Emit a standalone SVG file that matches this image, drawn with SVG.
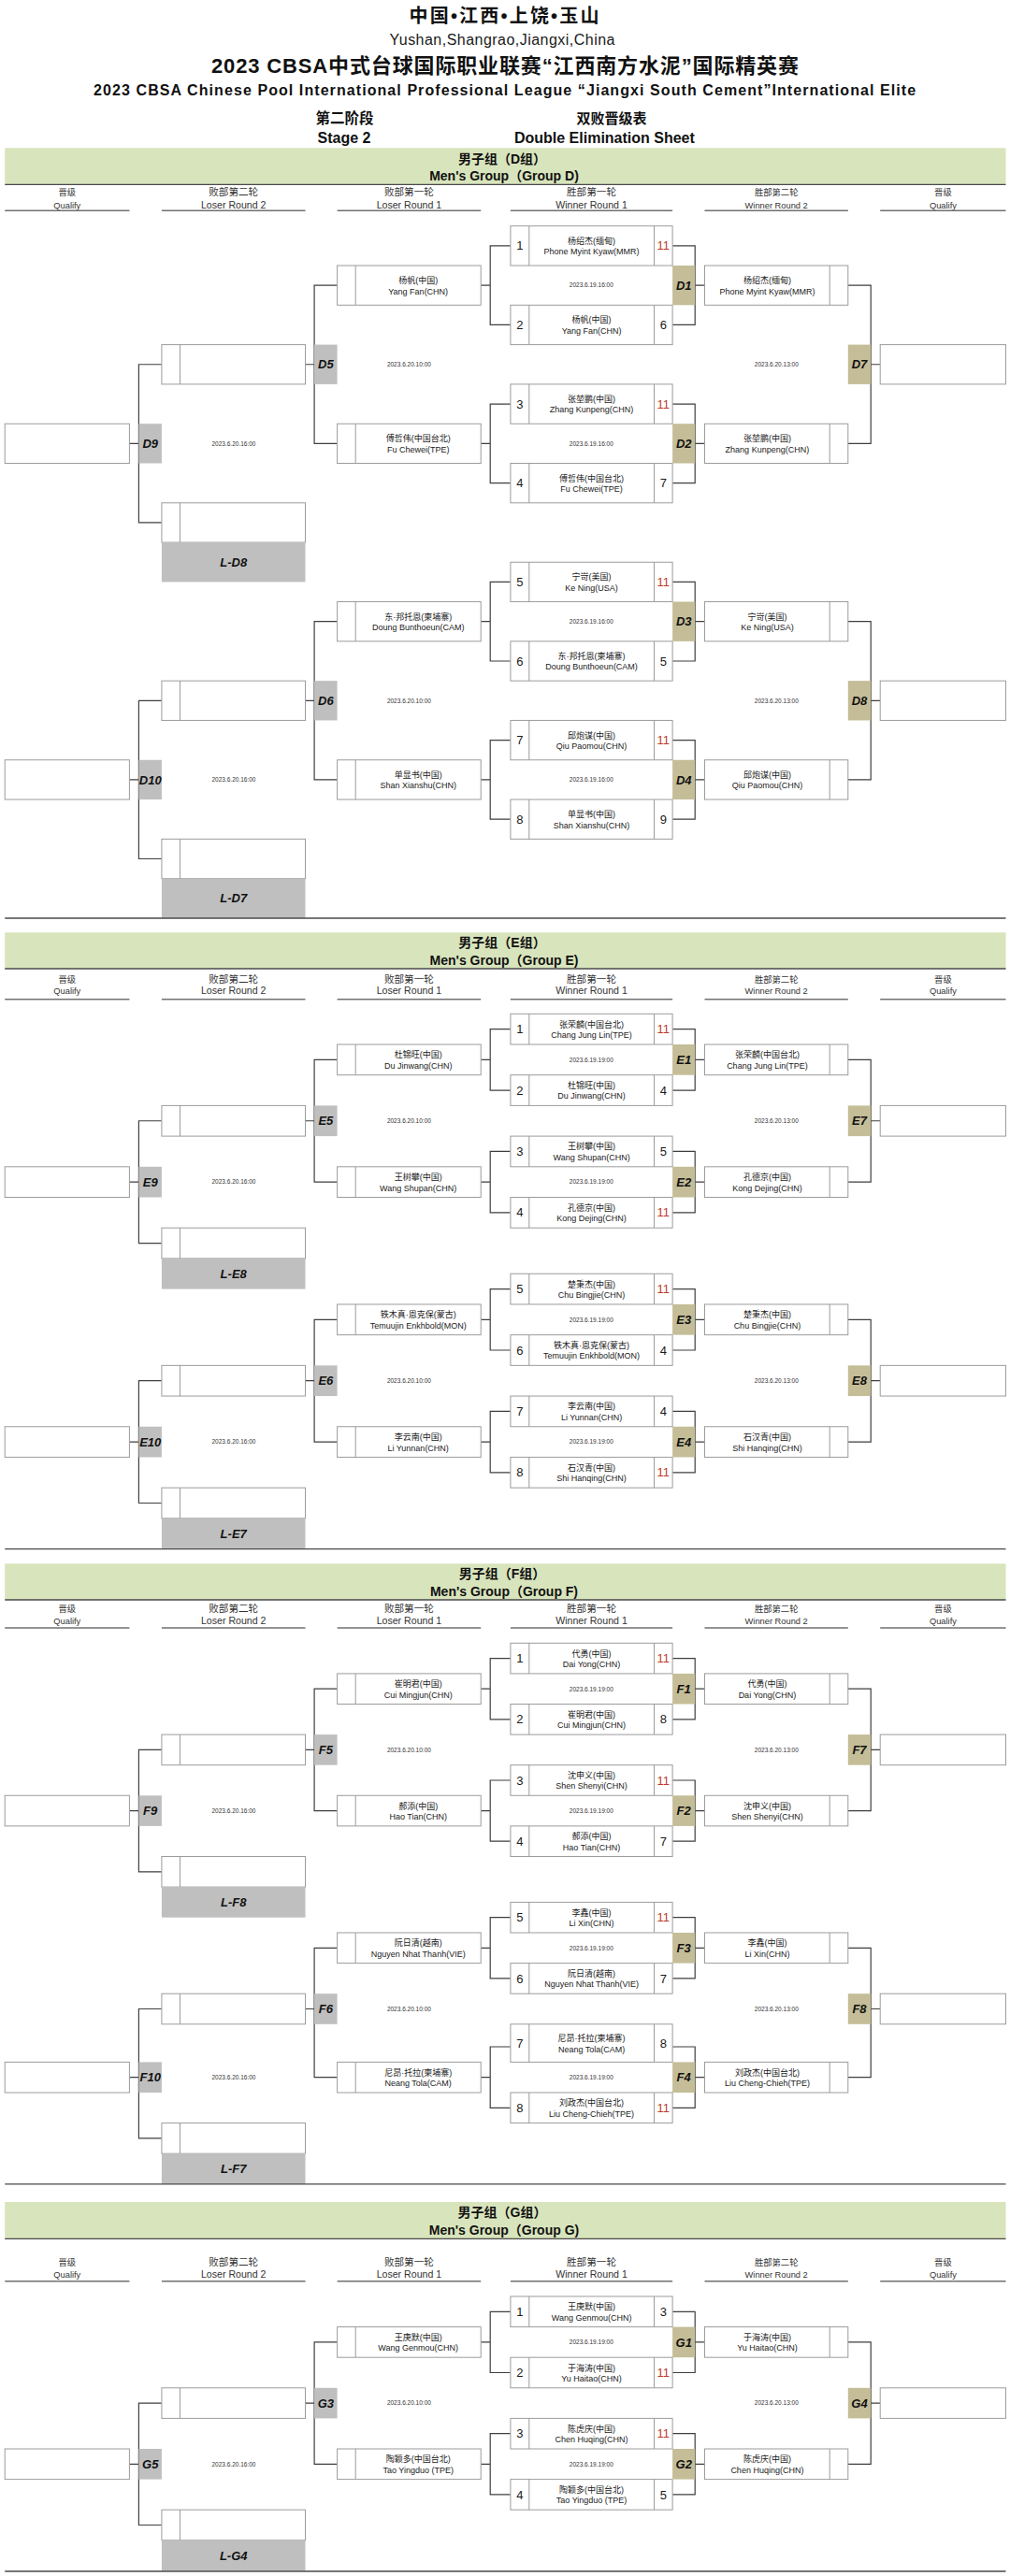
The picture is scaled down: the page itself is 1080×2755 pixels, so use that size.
<svg xmlns="http://www.w3.org/2000/svg" width="1080" height="2755" viewBox="0 0 1080 2755">
<style>
text{font-family:"Liberation Sans","Noto Sans CJK SC",sans-serif;fill:#1a1a1a}
.bx{fill:#fff;stroke:#9c9c9c;stroke-width:1}
.dv{stroke:#9c9c9c;stroke-width:1;fill:none}
.cn{fill:none;stroke:#3f3f3f;stroke-width:1.2}
.tw{fill:#c4bd97}
.tl{fill:#bfbfbf}
.band{fill:#d8e4bc}
.rule{stroke:#4a4a4a;stroke-width:1.3}
.ul{stroke:#707070;stroke-width:1.4}
.nm{font-size:9px;text-anchor:middle}
.sd{font-size:13px;text-anchor:middle}
.win{fill:#c0392b}
.tg{font-size:13px;font-weight:bold;font-style:italic;text-anchor:middle;fill:#111}
.dt{font-size:6.5px;text-anchor:middle;fill:#333}
.ha{font-size:10.6px;text-anchor:middle;fill:#333}
.hb{font-size:9.3px;text-anchor:middle;fill:#333}
.bt{font-size:14px;font-weight:bold;text-anchor:middle;fill:#111}
.tt{font-weight:bold;text-anchor:middle;fill:#111}
</style>

<g id="title">
<text class="tt" x="539" y="24" font-size="20" textLength="203">中国•江西•上饶•玉山</text>
<text x="537" y="47.5" font-size="16" text-anchor="middle" textLength="241">Yushan,Shangrao,Jiangxi,China</text>
<text class="tt" x="540" y="78" font-size="22" textLength="628">2023 CBSA中式台球国际职业联赛“江西南方水泥”国际精英赛</text>
<text class="tt" x="539.6" y="101.5" font-size="16" textLength="879">2023 CBSA Chinese Pool International Professional League “Jiangxi South Cement”International Elite</text>
<text class="tt" x="368.5" y="132" font-size="15.5">第二阶段</text>
<text class="tt" x="368" y="153" font-size="16">Stage 2</text>
<text class="tt" x="654" y="132" font-size="15">双败晋级表</text>
<text class="tt" x="646.4" y="153" font-size="16">Double Elimination Sheet</text>
</g>

<!-- ================= GROUP D ================= -->
<g id="D-header">
<rect class="band" x="5.2" y="158.3" width="1070.3" height="39"/>
<line class="rule" x1="5.2" y1="197.3" x2="1075.5" y2="197.3"/>
<text class="bt" x="537" y="175">男子组（D组）</text>
<text class="bt" x="539" y="193.3">Men's Group（Group D)</text>
<text class="hb" x="71.8" y="209">晋级</text><text class="hb" x="71.8" y="222.5">Qualify</text>
<text class="ha" x="249.7" y="209">败部第二轮</text><text class="ha" x="249.7" y="222.5">Loser Round 2</text>
<text class="ha" x="437.4" y="209">败部第一轮</text><text class="ha" x="437.4" y="222.5">Loser Round 1</text>
<text class="ha" x="632.5" y="209">胜部第一轮</text><text class="ha" x="632.5" y="222.5">Winner Round 1</text>
<text class="hb" x="830.2" y="209">胜部第二轮</text><text class="hb" x="830.2" y="222.5">Winner Round 2</text>
<text class="hb" x="1008.4" y="209">晋级</text><text class="hb" x="1008.4" y="222.5">Qualify</text>
<path class="ul" d="M5.2 225.3H138.4M172.9 225.3H326.5M360.6 225.3H514.2M545.9 225.3H719.1M753.5 225.3H906.8M941.2 225.3H1075.5"/>
</g>

<g id="D-connectors">
<path class="cn" d="M514.2 305.15H524.2M545.9 262.85H524.2V347.45H545.9M514.2 474.35H524.2M545.9 432.05H524.2V516.65H545.9M514.2 664.7H524.2M545.9 622.4H524.2V707H545.9M514.2 833.9H524.2M545.9 791.6H524.2V876.2H545.9"/>
<path class="cn" d="M719.1 262.85H743.2V347.45H719.1M743.2 305.15H753.5M719.1 432.05H743.2V516.65H719.1M743.2 474.35H753.5M719.1 622.4H743.2V707H719.1M743.2 664.7H753.5M719.1 791.6H743.2V876.2H719.1M743.2 833.9H753.5"/>
<path class="cn" d="M906.8 305.15H931.2V474.35H906.8M931.2 389.75H941.2M906.8 664.7H931.2V833.9H906.8M931.2 749.3H941.2"/>
<path class="cn" d="M360.6 305.15H336.1V474.35H360.6M336.1 389.75H326.5M360.6 664.7H336.1V833.9H360.6M336.1 749.3H326.5"/>
<path class="cn" d="M172.9 389.75H148.4V558.95H172.9M148.4 474.35H138.4M172.9 749.3H148.4V918.5H172.9M148.4 833.9H138.4"/>
</g>

<g id="D-W1-1"><rect class="bx" x="545.9" y="241.7" width="173.2" height="42.3"/><path class="dv" d="M565.8 241.7V284M699.5 241.7V284"/><text class="sd" x="555.9" y="267.45">1</text><text class="nm" x="632.6" y="260.85">杨绍杰(缅甸)</text><text class="nm" x="632.6" y="272.25">Phone Myint Kyaw(MMR)</text><text class="sd win" x="709.3" y="267.45">11</text></g>
<g id="D-W1-2"><rect class="bx" x="545.9" y="326.3" width="173.2" height="42.3"/><path class="dv" d="M565.8 326.3V368.6M699.5 326.3V368.6"/><text class="sd" x="555.9" y="352.05">2</text><text class="nm" x="632.6" y="345.45">杨帆(中国)</text><text class="nm" x="632.6" y="356.85">Yang Fan(CHN)</text><text class="sd" x="709.3" y="352.05">6</text></g>
<g id="D-W1-3"><rect class="bx" x="545.9" y="410.9" width="173.2" height="42.3"/><path class="dv" d="M565.8 410.9V453.2M699.5 410.9V453.2"/><text class="sd" x="555.9" y="436.65">3</text><text class="nm" x="632.6" y="430.05">张堃鹏(中国)</text><text class="nm" x="632.6" y="441.45">Zhang Kunpeng(CHN)</text><text class="sd win" x="709.3" y="436.65">11</text></g>
<g id="D-W1-4"><rect class="bx" x="545.9" y="495.5" width="173.2" height="42.3"/><path class="dv" d="M565.8 495.5V537.8M699.5 495.5V537.8"/><text class="sd" x="555.9" y="521.25">4</text><text class="nm" x="632.6" y="514.65">傅哲伟(中国台北)</text><text class="nm" x="632.6" y="526.05">Fu Chewei(TPE)</text><text class="sd" x="709.3" y="521.25">7</text></g>
<g id="D-W1-5"><rect class="bx" x="545.9" y="601.25" width="173.2" height="42.3"/><path class="dv" d="M565.8 601.25V643.55M699.5 601.25V643.55"/><text class="sd" x="555.9" y="627">5</text><text class="nm" x="632.6" y="620.4">宁岢(美国)</text><text class="nm" x="632.6" y="631.8">Ke Ning(USA)</text><text class="sd win" x="709.3" y="627">11</text></g>
<g id="D-W1-6"><rect class="bx" x="545.9" y="685.85" width="173.2" height="42.3"/><path class="dv" d="M565.8 685.85V728.15M699.5 685.85V728.15"/><text class="sd" x="555.9" y="711.6">6</text><text class="nm" x="632.6" y="705">东·邦托恩(柬埔寨)</text><text class="nm" x="632.6" y="716.4">Doung Bunthoeun(CAM)</text><text class="sd" x="709.3" y="711.6">5</text></g>
<g id="D-W1-7"><rect class="bx" x="545.9" y="770.45" width="173.2" height="42.3"/><path class="dv" d="M565.8 770.45V812.75M699.5 770.45V812.75"/><text class="sd" x="555.9" y="796.2">7</text><text class="nm" x="632.6" y="789.6">邱炮谋(中国)</text><text class="nm" x="632.6" y="801">Qiu Paomou(CHN)</text><text class="sd win" x="709.3" y="796.2">11</text></g>
<g id="D-W1-8"><rect class="bx" x="545.9" y="855.05" width="173.2" height="42.3"/><path class="dv" d="M565.8 855.05V897.35M699.5 855.05V897.35"/><text class="sd" x="555.9" y="880.8">8</text><text class="nm" x="632.6" y="874.2">单显书(中国)</text><text class="nm" x="632.6" y="885.6">Shan Xianshu(CHN)</text><text class="sd" x="709.3" y="880.8">9</text></g>

<g id="D-W2-1"><rect class="bx" x="753.5" y="284" width="153.3" height="42.3"/><path class="dv" d="M887.2 284V326.3"/><text class="nm" x="820.4" y="303.15">杨绍杰(缅甸)</text><text class="nm" x="820.4" y="314.55">Phone Myint Kyaw(MMR)</text></g>
<g id="D-W2-2"><rect class="bx" x="753.5" y="453.2" width="153.3" height="42.3"/><path class="dv" d="M887.2 453.2V495.5"/><text class="nm" x="820.4" y="472.35">张堃鹏(中国)</text><text class="nm" x="820.4" y="483.75">Zhang Kunpeng(CHN)</text></g>
<g id="D-W2-3"><rect class="bx" x="753.5" y="643.55" width="153.3" height="42.3"/><path class="dv" d="M887.2 643.55V685.85"/><text class="nm" x="820.4" y="662.7">宁岢(美国)</text><text class="nm" x="820.4" y="674.1">Ke Ning(USA)</text></g>
<g id="D-W2-4"><rect class="bx" x="753.5" y="812.75" width="153.3" height="42.3"/><path class="dv" d="M887.2 812.75V855.05"/><text class="nm" x="820.4" y="831.9">邱炮谋(中国)</text><text class="nm" x="820.4" y="843.3">Qiu Paomou(CHN)</text></g>

<g id="D-L1-1"><rect class="bx" x="360.6" y="284" width="153.6" height="42.3"/><path class="dv" d="M380.2 284V326.3"/><text class="nm" x="447.2" y="303.15">杨帆(中国)</text><text class="nm" x="447.2" y="314.55">Yang Fan(CHN)</text></g>
<g id="D-L1-2"><rect class="bx" x="360.6" y="453.2" width="153.6" height="42.3"/><path class="dv" d="M380.2 453.2V495.5"/><text class="nm" x="447.2" y="472.35">傅哲伟(中国台北)</text><text class="nm" x="447.2" y="483.75">Fu Chewei(TPE)</text></g>
<g id="D-L1-3"><rect class="bx" x="360.6" y="643.55" width="153.6" height="42.3"/><path class="dv" d="M380.2 643.55V685.85"/><text class="nm" x="447.2" y="662.7">东·邦托恩(柬埔寨)</text><text class="nm" x="447.2" y="674.1">Doung Bunthoeun(CAM)</text></g>
<g id="D-L1-4"><rect class="bx" x="360.6" y="812.75" width="153.6" height="42.3"/><path class="dv" d="M380.2 812.75V855.05"/><text class="nm" x="447.2" y="831.9">单显书(中国)</text><text class="nm" x="447.2" y="843.3">Shan Xianshu(CHN)</text></g>

<g id="D-L2-1"><rect class="bx" x="172.9" y="368.6" width="153.6" height="42.3"/><path class="dv" d="M192.5 368.6V410.9"/></g>
<g id="D-L2-2"><rect class="bx" x="172.9" y="537.8" width="153.6" height="42.3"/><path class="dv" d="M192.5 537.8V580.1"/></g>
<g id="D-LD8"><rect class="tl" x="172.9" y="580.1" width="153.6" height="42.3"/><text class="tg" x="249.7" y="605.85">L-D8</text></g>
<g id="D-L2-3"><rect class="bx" x="172.9" y="728.15" width="153.6" height="42.3"/><path class="dv" d="M192.5 728.15V770.45"/></g>
<g id="D-L2-4"><rect class="bx" x="172.9" y="897.35" width="153.6" height="42.3"/><path class="dv" d="M192.5 897.35V939.65"/></g>
<g id="D-LD7"><rect class="tl" x="172.9" y="939.65" width="153.6" height="42.3"/><text class="tg" x="249.7" y="965.4">L-D7</text></g>

<g id="D-QL-1"><rect class="bx" x="5.2" y="453.2" width="133.2" height="42.3"/></g>
<g id="D-QL-2"><rect class="bx" x="5.2" y="812.75" width="133.2" height="42.3"/></g>
<g id="D-QR-1"><rect class="bx" x="941.2" y="368.6" width="134.3" height="42.3"/></g>
<g id="D-QR-2"><rect class="bx" x="941.2" y="728.15" width="134.3" height="42.3"/></g>

<g id="D1"><rect class="tw" x="719.1" y="284" width="24.1" height="42.3"/><text class="tg" x="731.2" y="309.75">D1</text></g>
<g id="D2"><rect class="tw" x="719.1" y="453.2" width="24.1" height="42.3"/><text class="tg" x="731.2" y="478.95">D2</text></g>
<g id="D3"><rect class="tw" x="719.1" y="643.55" width="24.1" height="42.3"/><text class="tg" x="731.2" y="669.3">D3</text></g>
<g id="D4"><rect class="tw" x="719.1" y="812.75" width="24.1" height="42.3"/><text class="tg" x="731.2" y="838.5">D4</text></g>
<g id="D7"><rect class="tw" x="906.8" y="368.6" width="24.4" height="42.3"/><text class="tg" x="919" y="394.35">D7</text></g>
<g id="D8"><rect class="tw" x="906.8" y="728.15" width="24.4" height="42.3"/><text class="tg" x="919" y="753.9">D8</text></g>
<g id="D5"><rect class="tl" x="336.1" y="368.6" width="24.5" height="42.3"/><text class="tg" x="348.4" y="394.35">D5</text></g>
<g id="D6"><rect class="tl" x="336.1" y="728.15" width="24.5" height="42.3"/><text class="tg" x="348.4" y="753.9">D6</text></g>
<g id="D9"><rect class="tl" x="148.4" y="453.2" width="24.5" height="42.3"/><text class="tg" x="160.7" y="478.95">D9</text></g>
<g id="D10"><rect class="tl" x="148.4" y="812.75" width="24.5" height="42.3"/><text class="tg" x="160.7" y="838.5">D10</text></g>

<g id="D-dates">
<text class="dt" x="632.3" y="307.45">2023.6.19.16:00</text><text class="dt" x="632.3" y="476.65">2023.6.19.16:00</text><text class="dt" x="632.3" y="667">2023.6.19.16:00</text><text class="dt" x="632.3" y="836.2">2023.6.19.16:00</text>
<text class="dt" x="830.3" y="392.05">2023.6.20.13:00</text><text class="dt" x="830.3" y="751.6">2023.6.20.13:00</text>
<text class="dt" x="437.4" y="392.05">2023.6.20.10:00</text><text class="dt" x="437.4" y="751.6">2023.6.20.10:00</text>
<text class="dt" x="250" y="476.65">2023.6.20.16:00</text><text class="dt" x="250" y="836.2">2023.6.20.16:00</text>
</g>
<line class="rule" x1="5.2" y1="982" x2="1075.5" y2="982"/>

<!-- ================= GROUP E ================= -->
<g id="E-header">
<rect class="band" x="5.2" y="997.3" width="1070.3" height="38.7"/>
<line class="rule" x1="5.2" y1="1036" x2="1075.5" y2="1036"/>
<text class="bt" x="537" y="1013.3">男子组（E组）</text>
<text class="bt" x="539" y="1032.3">Men's Group（Group E)</text>
<text class="hb" x="71.8" y="1050.7">晋级</text><text class="hb" x="71.8" y="1063.1">Qualify</text>
<text class="ha" x="249.7" y="1050.7">败部第二轮</text><text class="ha" x="249.7" y="1063.1">Loser Round 2</text>
<text class="ha" x="437.4" y="1050.7">败部第一轮</text><text class="ha" x="437.4" y="1063.1">Loser Round 1</text>
<text class="ha" x="632.5" y="1050.7">胜部第一轮</text><text class="ha" x="632.5" y="1063.1">Winner Round 1</text>
<text class="hb" x="830.2" y="1050.7">胜部第二轮</text><text class="hb" x="830.2" y="1063.1">Winner Round 2</text>
<text class="hb" x="1008.4" y="1050.7">晋级</text><text class="hb" x="1008.4" y="1063.1">Qualify</text>
<path class="ul" d="M5.2 1068.7H138.4M172.9 1068.7H326.5M360.6 1068.7H514.2M545.9 1068.7H719.1M753.5 1068.7H906.8M941.2 1068.7H1075.5"/>
</g>

<g id="E-connectors">
<path class="cn" d="M514.2 1133.35H524.2M545.9 1100.65H524.2V1166.05H545.9M514.2 1264.15H524.2M545.9 1231.45H524.2V1296.85H545.9M514.2 1411.3H524.2M545.9 1378.6H524.2V1444H545.9M514.2 1542.1H524.2M545.9 1509.4H524.2V1574.8H545.9"/>
<path class="cn" d="M719.1 1100.65H743.2V1166.05H719.1M743.2 1133.35H753.5M719.1 1231.45H743.2V1296.85H719.1M743.2 1264.15H753.5M719.1 1378.6H743.2V1444H719.1M743.2 1411.3H753.5M719.1 1509.4H743.2V1574.8H719.1M743.2 1542.1H753.5"/>
<path class="cn" d="M906.8 1133.35H931.2V1264.15H906.8M931.2 1198.75H941.2M906.8 1411.3H931.2V1542.1H906.8M931.2 1476.7H941.2"/>
<path class="cn" d="M360.6 1133.35H336.1V1264.15H360.6M336.1 1198.75H326.5M360.6 1411.3H336.1V1542.1H360.6M336.1 1476.7H326.5"/>
<path class="cn" d="M172.9 1198.75H148.4V1329.55H172.9M148.4 1264.15H138.4M172.9 1476.7H148.4V1607.5H172.9M148.4 1542.1H138.4"/>
</g>

<g id="E-W1-1"><rect class="bx" x="545.9" y="1084.3" width="173.2" height="32.7"/><path class="dv" d="M565.8 1084.3V1117M699.5 1084.3V1117"/><text class="sd" x="555.9" y="1105.25">1</text><text class="nm" x="632.6" y="1098.65">张荣麟(中国台北)</text><text class="nm" x="632.6" y="1110.05">Chang Jung Lin(TPE)</text><text class="sd win" x="709.3" y="1105.25">11</text></g>
<g id="E-W1-2"><rect class="bx" x="545.9" y="1149.7" width="173.2" height="32.7"/><path class="dv" d="M565.8 1149.7V1182.4M699.5 1149.7V1182.4"/><text class="sd" x="555.9" y="1170.65">2</text><text class="nm" x="632.6" y="1164.05">杜锦旺(中国)</text><text class="nm" x="632.6" y="1175.45">Du Jinwang(CHN)</text><text class="sd" x="709.3" y="1170.65">4</text></g>
<g id="E-W1-3"><rect class="bx" x="545.9" y="1215.1" width="173.2" height="32.7"/><path class="dv" d="M565.8 1215.1V1247.8M699.5 1215.1V1247.8"/><text class="sd" x="555.9" y="1236.05">3</text><text class="nm" x="632.6" y="1229.45">王树攀(中国)</text><text class="nm" x="632.6" y="1240.85">Wang Shupan(CHN)</text><text class="sd" x="709.3" y="1236.05">5</text></g>
<g id="E-W1-4"><rect class="bx" x="545.9" y="1280.5" width="173.2" height="32.7"/><path class="dv" d="M565.8 1280.5V1313.2M699.5 1280.5V1313.2"/><text class="sd" x="555.9" y="1301.45">4</text><text class="nm" x="632.6" y="1294.85">孔德京(中国)</text><text class="nm" x="632.6" y="1306.25">Kong Dejing(CHN)</text><text class="sd win" x="709.3" y="1301.45">11</text></g>
<g id="E-W1-5"><rect class="bx" x="545.9" y="1362.25" width="173.2" height="32.7"/><path class="dv" d="M565.8 1362.25V1394.95M699.5 1362.25V1394.95"/><text class="sd" x="555.9" y="1383.2">5</text><text class="nm" x="632.6" y="1376.6">楚秉杰(中国)</text><text class="nm" x="632.6" y="1388">Chu Bingjie(CHN)</text><text class="sd win" x="709.3" y="1383.2">11</text></g>
<g id="E-W1-6"><rect class="bx" x="545.9" y="1427.65" width="173.2" height="32.7"/><path class="dv" d="M565.8 1427.65V1460.35M699.5 1427.65V1460.35"/><text class="sd" x="555.9" y="1448.6">6</text><text class="nm" x="632.6" y="1442">铁木真·恩克保(蒙古)</text><text class="nm" x="632.6" y="1453.4">Temuujin Enkhbold(MON)</text><text class="sd" x="709.3" y="1448.6">4</text></g>
<g id="E-W1-7"><rect class="bx" x="545.9" y="1493.05" width="173.2" height="32.7"/><path class="dv" d="M565.8 1493.05V1525.75M699.5 1493.05V1525.75"/><text class="sd" x="555.9" y="1514">7</text><text class="nm" x="632.6" y="1507.4">李云南(中国)</text><text class="nm" x="632.6" y="1518.8">Li Yunnan(CHN)</text><text class="sd" x="709.3" y="1514">4</text></g>
<g id="E-W1-8"><rect class="bx" x="545.9" y="1558.45" width="173.2" height="32.7"/><path class="dv" d="M565.8 1558.45V1591.15M699.5 1558.45V1591.15"/><text class="sd" x="555.9" y="1579.4">8</text><text class="nm" x="632.6" y="1572.8">石汉青(中国)</text><text class="nm" x="632.6" y="1584.2">Shi Hanqing(CHN)</text><text class="sd win" x="709.3" y="1579.4">11</text></g>

<g id="E-W2-1"><rect class="bx" x="753.5" y="1117" width="153.3" height="32.7"/><path class="dv" d="M887.2 1117V1149.7"/><text class="nm" x="820.4" y="1131.35">张荣麟(中国台北)</text><text class="nm" x="820.4" y="1142.75">Chang Jung Lin(TPE)</text></g>
<g id="E-W2-2"><rect class="bx" x="753.5" y="1247.8" width="153.3" height="32.7"/><path class="dv" d="M887.2 1247.8V1280.5"/><text class="nm" x="820.4" y="1262.15">孔德京(中国)</text><text class="nm" x="820.4" y="1273.55">Kong Dejing(CHN)</text></g>
<g id="E-W2-3"><rect class="bx" x="753.5" y="1394.95" width="153.3" height="32.7"/><path class="dv" d="M887.2 1394.95V1427.65"/><text class="nm" x="820.4" y="1409.3">楚秉杰(中国)</text><text class="nm" x="820.4" y="1420.7">Chu Bingjie(CHN)</text></g>
<g id="E-W2-4"><rect class="bx" x="753.5" y="1525.75" width="153.3" height="32.7"/><path class="dv" d="M887.2 1525.75V1558.45"/><text class="nm" x="820.4" y="1540.1">石汉青(中国)</text><text class="nm" x="820.4" y="1551.5">Shi Hanqing(CHN)</text></g>

<g id="E-L1-1"><rect class="bx" x="360.6" y="1117" width="153.6" height="32.7"/><path class="dv" d="M380.2 1117V1149.7"/><text class="nm" x="447.2" y="1131.35">杜锦旺(中国)</text><text class="nm" x="447.2" y="1142.75">Du Jinwang(CHN)</text></g>
<g id="E-L1-2"><rect class="bx" x="360.6" y="1247.8" width="153.6" height="32.7"/><path class="dv" d="M380.2 1247.8V1280.5"/><text class="nm" x="447.2" y="1262.15">王树攀(中国)</text><text class="nm" x="447.2" y="1273.55">Wang Shupan(CHN)</text></g>
<g id="E-L1-3"><rect class="bx" x="360.6" y="1394.95" width="153.6" height="32.7"/><path class="dv" d="M380.2 1394.95V1427.65"/><text class="nm" x="447.2" y="1409.3">铁木真·恩克保(蒙古)</text><text class="nm" x="447.2" y="1420.7">Temuujin Enkhbold(MON)</text></g>
<g id="E-L1-4"><rect class="bx" x="360.6" y="1525.75" width="153.6" height="32.7"/><path class="dv" d="M380.2 1525.75V1558.45"/><text class="nm" x="447.2" y="1540.1">李云南(中国)</text><text class="nm" x="447.2" y="1551.5">Li Yunnan(CHN)</text></g>

<g id="E-L2-1"><rect class="bx" x="172.9" y="1182.4" width="153.6" height="32.7"/><path class="dv" d="M192.5 1182.4V1215.1"/></g>
<g id="E-L2-2"><rect class="bx" x="172.9" y="1313.2" width="153.6" height="32.7"/><path class="dv" d="M192.5 1313.2V1345.9"/></g>
<g id="E-LE8"><rect class="tl" x="172.9" y="1345.9" width="153.6" height="32.7"/><text class="tg" x="249.7" y="1366.85">L-E8</text></g>
<g id="E-L2-3"><rect class="bx" x="172.9" y="1460.35" width="153.6" height="32.7"/><path class="dv" d="M192.5 1460.35V1493.05"/></g>
<g id="E-L2-4"><rect class="bx" x="172.9" y="1591.15" width="153.6" height="32.7"/><path class="dv" d="M192.5 1591.15V1623.85"/></g>
<g id="E-LE7"><rect class="tl" x="172.9" y="1623.85" width="153.6" height="32.7"/><text class="tg" x="249.7" y="1644.8">L-E7</text></g>

<g id="E-QL-1"><rect class="bx" x="5.2" y="1247.8" width="133.2" height="32.7"/></g>
<g id="E-QL-2"><rect class="bx" x="5.2" y="1525.75" width="133.2" height="32.7"/></g>
<g id="E-QR-1"><rect class="bx" x="941.2" y="1182.4" width="134.3" height="32.7"/></g>
<g id="E-QR-2"><rect class="bx" x="941.2" y="1460.35" width="134.3" height="32.7"/></g>

<g id="E1"><rect class="tw" x="719.1" y="1117" width="24.1" height="32.7"/><text class="tg" x="731.2" y="1137.95">E1</text></g>
<g id="E2"><rect class="tw" x="719.1" y="1247.8" width="24.1" height="32.7"/><text class="tg" x="731.2" y="1268.75">E2</text></g>
<g id="E3"><rect class="tw" x="719.1" y="1394.95" width="24.1" height="32.7"/><text class="tg" x="731.2" y="1415.9">E3</text></g>
<g id="E4"><rect class="tw" x="719.1" y="1525.75" width="24.1" height="32.7"/><text class="tg" x="731.2" y="1546.7">E4</text></g>
<g id="E7"><rect class="tw" x="906.8" y="1182.4" width="24.4" height="32.7"/><text class="tg" x="919" y="1203.35">E7</text></g>
<g id="E8"><rect class="tw" x="906.8" y="1460.35" width="24.4" height="32.7"/><text class="tg" x="919" y="1481.3">E8</text></g>
<g id="E5"><rect class="tl" x="336.1" y="1182.4" width="24.5" height="32.7"/><text class="tg" x="348.4" y="1203.35">E5</text></g>
<g id="E6"><rect class="tl" x="336.1" y="1460.35" width="24.5" height="32.7"/><text class="tg" x="348.4" y="1481.3">E6</text></g>
<g id="E9"><rect class="tl" x="148.4" y="1247.8" width="24.5" height="32.7"/><text class="tg" x="160.7" y="1268.75">E9</text></g>
<g id="E10"><rect class="tl" x="148.4" y="1525.75" width="24.5" height="32.7"/><text class="tg" x="160.7" y="1546.7">E10</text></g>

<g id="E-dates">
<text class="dt" x="632.3" y="1135.65">2023.6.19.19:00</text><text class="dt" x="632.3" y="1266.45">2023.6.19.19:00</text><text class="dt" x="632.3" y="1413.6">2023.6.19.19:00</text><text class="dt" x="632.3" y="1544.4">2023.6.19.19:00</text>
<text class="dt" x="830.3" y="1201.05">2023.6.20.13:00</text><text class="dt" x="830.3" y="1479">2023.6.20.13:00</text>
<text class="dt" x="437.4" y="1201.05">2023.6.20.10:00</text><text class="dt" x="437.4" y="1479">2023.6.20.10:00</text>
<text class="dt" x="250" y="1266.45">2023.6.20.16:00</text><text class="dt" x="250" y="1544.4">2023.6.20.16:00</text>
</g>
<line class="rule" x1="5.2" y1="1656.6" x2="1075.5" y2="1656.6"/>

<!-- ================= GROUP F ================= -->
<g id="F-header">
<rect class="band" x="5.2" y="1672.3" width="1070.3" height="38.7"/>
<line class="rule" x1="5.2" y1="1711" x2="1075.5" y2="1711"/>
<text class="bt" x="537" y="1688.3">男子组（F组）</text>
<text class="bt" x="539" y="1707.3">Men's Group（Group F)</text>
<text class="hb" x="71.8" y="1724">晋级</text><text class="hb" x="71.8" y="1737.1">Qualify</text>
<text class="ha" x="249.7" y="1724">败部第二轮</text><text class="ha" x="249.7" y="1737.1">Loser Round 2</text>
<text class="ha" x="437.4" y="1724">败部第一轮</text><text class="ha" x="437.4" y="1737.1">Loser Round 1</text>
<text class="ha" x="632.5" y="1724">胜部第一轮</text><text class="ha" x="632.5" y="1737.1">Winner Round 1</text>
<text class="hb" x="830.2" y="1724">胜部第二轮</text><text class="hb" x="830.2" y="1737.1">Winner Round 2</text>
<text class="hb" x="1008.4" y="1724">晋级</text><text class="hb" x="1008.4" y="1737.1">Qualify</text>
<path class="ul" d="M5.2 1741H138.4M172.9 1741H326.5M360.6 1741H514.2M545.9 1741H719.1M753.5 1741H906.8M941.2 1741H1075.5"/>
</g>

<g id="F-connectors">
<path class="cn" d="M514.2 1806.2H524.2M545.9 1773.6H524.2V1838.8H545.9M514.2 1936.6H524.2M545.9 1904H524.2V1969.2H545.9M514.2 2083.3H524.2M545.9 2050.7H524.2V2115.9H545.9M514.2 2221.7H524.2M545.9 2189H524.2V2254.3H545.9"/>
<path class="cn" d="M719.1 1773.6H743.2V1838.8H719.1M743.2 1806.2H753.5M719.1 1904H743.2V1969.2H719.1M743.2 1936.6H753.5M719.1 2050.7H743.2V2115.9H719.1M743.2 2083.3H753.5M719.1 2189H743.2V2254.3H719.1M743.2 2221.7H753.5"/>
<path class="cn" d="M906.8 1806.2H931.2V1936.6H906.8M931.2 1871.4H941.2M906.8 2083.3H931.2V2221.7H906.8M931.2 2148.5H941.2"/>
<path class="cn" d="M360.6 1806.2H336.1V1936.6H360.6M336.1 1871.4H326.5M360.6 2083.3H336.1V2221.7H360.6M336.1 2148.5H326.5"/>
<path class="cn" d="M172.9 1871.4H148.4V2001.8H172.9M148.4 1936.6H138.4M172.9 2148.5H148.4V2286.9H172.9M148.4 2221.7H138.4"/>
</g>

<g id="F-W1-1"><rect class="bx" x="545.9" y="1757.3" width="173.2" height="32.6"/><path class="dv" d="M565.8 1757.3V1789.9M699.5 1757.3V1789.9"/><text class="sd" x="555.9" y="1778.2">1</text><text class="nm" x="632.6" y="1771.6">代勇(中国)</text><text class="nm" x="632.6" y="1783">Dai Yong(CHN)</text><text class="sd win" x="709.3" y="1778.2">11</text></g>
<g id="F-W1-2"><rect class="bx" x="545.9" y="1822.5" width="173.2" height="32.6"/><path class="dv" d="M565.8 1822.5V1855.1M699.5 1822.5V1855.1"/><text class="sd" x="555.9" y="1843.4">2</text><text class="nm" x="632.6" y="1836.8">崔明君(中国)</text><text class="nm" x="632.6" y="1848.2">Cui Mingjun(CHN)</text><text class="sd" x="709.3" y="1843.4">8</text></g>
<g id="F-W1-3"><rect class="bx" x="545.9" y="1887.7" width="173.2" height="32.6"/><path class="dv" d="M565.8 1887.7V1920.3M699.5 1887.7V1920.3"/><text class="sd" x="555.9" y="1908.6">3</text><text class="nm" x="632.6" y="1902">沈申义(中国)</text><text class="nm" x="632.6" y="1913.4">Shen Shenyi(CHN)</text><text class="sd win" x="709.3" y="1908.6">11</text></g>
<g id="F-W1-4"><rect class="bx" x="545.9" y="1952.9" width="173.2" height="32.6"/><path class="dv" d="M565.8 1952.9V1985.5M699.5 1952.9V1985.5"/><text class="sd" x="555.9" y="1973.8">4</text><text class="nm" x="632.6" y="1967.2">郝添(中国)</text><text class="nm" x="632.6" y="1978.6">Hao Tian(CHN)</text><text class="sd" x="709.3" y="1973.8">7</text></g>
<g id="F-W1-5"><rect class="bx" x="545.9" y="2034.4" width="173.2" height="32.6"/><path class="dv" d="M565.8 2034.4V2067M699.5 2034.4V2067"/><text class="sd" x="555.9" y="2055.3">5</text><text class="nm" x="632.6" y="2048.7">李鑫(中国)</text><text class="nm" x="632.6" y="2060.1">Li Xin(CHN)</text><text class="sd win" x="709.3" y="2055.3">11</text></g>
<g id="F-W1-6"><rect class="bx" x="545.9" y="2099.6" width="173.2" height="32.6"/><path class="dv" d="M565.8 2099.6V2132.2M699.5 2099.6V2132.2"/><text class="sd" x="555.9" y="2120.5">6</text><text class="nm" x="632.6" y="2113.9">阮日清(越南)</text><text class="nm" x="632.6" y="2125.3">Nguyen Nhat Thanh(VIE)</text><text class="sd" x="709.3" y="2120.5">7</text></g>
<g id="F-W1-7"><rect class="bx" x="545.9" y="2164.8" width="173.2" height="40.6"/><path class="dv" d="M565.8 2164.8V2205.4M699.5 2164.8V2205.4"/><text class="sd" x="555.9" y="2189.7">7</text><text class="nm" x="632.6" y="2183.1">尼昂·托拉(柬埔寨)</text><text class="nm" x="632.6" y="2194.5">Neang Tola(CAM)</text><text class="sd" x="709.3" y="2189.7">8</text></g>
<g id="F-W1-8"><rect class="bx" x="545.9" y="2238" width="173.2" height="32.6"/><path class="dv" d="M565.8 2238V2270.6M699.5 2238V2270.6"/><text class="sd" x="555.9" y="2258.9">8</text><text class="nm" x="632.6" y="2252.3">刘政杰(中国台北)</text><text class="nm" x="632.6" y="2263.7">Liu Cheng-Chieh(TPE)</text><text class="sd win" x="709.3" y="2258.9">11</text></g>

<g id="F-W2-1"><rect class="bx" x="753.5" y="1789.9" width="153.3" height="32.6"/><path class="dv" d="M887.2 1789.9V1822.5"/><text class="nm" x="820.4" y="1804.2">代勇(中国)</text><text class="nm" x="820.4" y="1815.6">Dai Yong(CHN)</text></g>
<g id="F-W2-2"><rect class="bx" x="753.5" y="1920.3" width="153.3" height="32.6"/><path class="dv" d="M887.2 1920.3V1952.9"/><text class="nm" x="820.4" y="1934.6">沈申义(中国)</text><text class="nm" x="820.4" y="1946">Shen Shenyi(CHN)</text></g>
<g id="F-W2-3"><rect class="bx" x="753.5" y="2067" width="153.3" height="32.6"/><path class="dv" d="M887.2 2067V2099.6"/><text class="nm" x="820.4" y="2081.3">李鑫(中国)</text><text class="nm" x="820.4" y="2092.7">Li Xin(CHN)</text></g>
<g id="F-W2-4"><rect class="bx" x="753.5" y="2205.4" width="153.3" height="32.6"/><path class="dv" d="M887.2 2205.4V2238"/><text class="nm" x="820.4" y="2219.7">刘政杰(中国台北)</text><text class="nm" x="820.4" y="2231.1">Liu Cheng-Chieh(TPE)</text></g>

<g id="F-L1-1"><rect class="bx" x="360.6" y="1789.9" width="153.6" height="32.6"/><path class="dv" d="M380.2 1789.9V1822.5"/><text class="nm" x="447.2" y="1804.2">崔明君(中国)</text><text class="nm" x="447.2" y="1815.6">Cui Mingjun(CHN)</text></g>
<g id="F-L1-2"><rect class="bx" x="360.6" y="1920.3" width="153.6" height="32.6"/><path class="dv" d="M380.2 1920.3V1952.9"/><text class="nm" x="447.2" y="1934.6">郝添(中国)</text><text class="nm" x="447.2" y="1946">Hao Tian(CHN)</text></g>
<g id="F-L1-3"><rect class="bx" x="360.6" y="2067" width="153.6" height="32.6"/><path class="dv" d="M380.2 2067V2099.6"/><text class="nm" x="447.2" y="2081.3">阮日清(越南)</text><text class="nm" x="447.2" y="2092.7">Nguyen Nhat Thanh(VIE)</text></g>
<g id="F-L1-4"><rect class="bx" x="360.6" y="2205.4" width="153.6" height="32.6"/><path class="dv" d="M380.2 2205.4V2238"/><text class="nm" x="447.2" y="2219.7">尼昂·托拉(柬埔寨)</text><text class="nm" x="447.2" y="2231.1">Neang Tola(CAM)</text></g>

<g id="F-L2-1"><rect class="bx" x="172.9" y="1855.1" width="153.6" height="32.6"/><path class="dv" d="M192.5 1855.1V1887.7"/></g>
<g id="F-L2-2"><rect class="bx" x="172.9" y="1985.5" width="153.6" height="32.6"/><path class="dv" d="M192.5 1985.5V2018.1"/></g>
<g id="F-LF8"><rect class="tl" x="172.9" y="2018.1" width="153.6" height="32.6"/><text class="tg" x="249.7" y="2039">L-F8</text></g>
<g id="F-L2-3"><rect class="bx" x="172.9" y="2132.2" width="153.6" height="32.6"/><path class="dv" d="M192.5 2132.2V2164.8"/></g>
<g id="F-L2-4"><rect class="bx" x="172.9" y="2270.6" width="153.6" height="32.6"/><path class="dv" d="M192.5 2270.6V2303.2"/></g>
<g id="F-LF7"><rect class="tl" x="172.9" y="2303.2" width="153.6" height="32.6"/><text class="tg" x="249.7" y="2324.1">L-F7</text></g>

<g id="F-QL-1"><rect class="bx" x="5.2" y="1920.3" width="133.2" height="32.6"/></g>
<g id="F-QL-2"><rect class="bx" x="5.2" y="2205.4" width="133.2" height="32.6"/></g>
<g id="F-QR-1"><rect class="bx" x="941.2" y="1855.1" width="134.3" height="32.6"/></g>
<g id="F-QR-2"><rect class="bx" x="941.2" y="2132.2" width="134.3" height="32.6"/></g>

<g id="F1"><rect class="tw" x="719.1" y="1789.9" width="24.1" height="32.6"/><text class="tg" x="731.2" y="1810.8">F1</text></g>
<g id="F2"><rect class="tw" x="719.1" y="1920.3" width="24.1" height="32.6"/><text class="tg" x="731.2" y="1941.2">F2</text></g>
<g id="F3"><rect class="tw" x="719.1" y="2067" width="24.1" height="32.6"/><text class="tg" x="731.2" y="2087.9">F3</text></g>
<g id="F4"><rect class="tw" x="719.1" y="2205.4" width="24.1" height="32.6"/><text class="tg" x="731.2" y="2226.3">F4</text></g>
<g id="F7"><rect class="tw" x="906.8" y="1855.1" width="24.4" height="32.6"/><text class="tg" x="919" y="1876">F7</text></g>
<g id="F8"><rect class="tw" x="906.8" y="2132.2" width="24.4" height="32.6"/><text class="tg" x="919" y="2153.1">F8</text></g>
<g id="F5"><rect class="tl" x="336.1" y="1855.1" width="24.5" height="32.6"/><text class="tg" x="348.4" y="1876">F5</text></g>
<g id="F6"><rect class="tl" x="336.1" y="2132.2" width="24.5" height="32.6"/><text class="tg" x="348.4" y="2153.1">F6</text></g>
<g id="F9"><rect class="tl" x="148.4" y="1920.3" width="24.5" height="32.6"/><text class="tg" x="160.7" y="1941.2">F9</text></g>
<g id="F10"><rect class="tl" x="148.4" y="2205.4" width="24.5" height="32.6"/><text class="tg" x="160.7" y="2226.3">F10</text></g>

<g id="F-dates">
<text class="dt" x="632.3" y="1808.5">2023.6.19.19:00</text><text class="dt" x="632.3" y="1938.9">2023.6.19.19:00</text><text class="dt" x="632.3" y="2085.6">2023.6.19.19:00</text><text class="dt" x="632.3" y="2224">2023.6.19.19:00</text>
<text class="dt" x="830.3" y="1873.7">2023.6.20.13:00</text><text class="dt" x="830.3" y="2150.8">2023.6.20.13:00</text>
<text class="dt" x="437.4" y="1873.7">2023.6.20.10:00</text><text class="dt" x="437.4" y="2150.8">2023.6.20.10:00</text>
<text class="dt" x="250" y="1938.9">2023.6.20.16:00</text><text class="dt" x="250" y="2224">2023.6.20.16:00</text>
</g>
<line class="rule" x1="5.2" y1="2335.8" x2="1075.5" y2="2335.8"/>

<!-- ================= GROUP G ================= -->
<g id="G-header">
<rect class="band" x="5.2" y="2355" width="1070.3" height="39.3"/>
<line class="rule" x1="5.2" y1="2394.3" x2="1075.5" y2="2394.3"/>
<text class="bt" x="537" y="2370.7">男子组（G组）</text>
<text class="bt" x="539" y="2390">Men's Group（Group G)</text>
<text class="hb" x="71.8" y="2423">晋级</text><text class="hb" x="71.8" y="2435.5">Qualify</text>
<text class="ha" x="249.7" y="2423">败部第二轮</text><text class="ha" x="249.7" y="2435.5">Loser Round 2</text>
<text class="ha" x="437.4" y="2423">败部第一轮</text><text class="ha" x="437.4" y="2435.5">Loser Round 1</text>
<text class="ha" x="632.5" y="2423">胜部第一轮</text><text class="ha" x="632.5" y="2435.5">Winner Round 1</text>
<text class="hb" x="830.2" y="2423">胜部第二轮</text><text class="hb" x="830.2" y="2435.5">Winner Round 2</text>
<text class="hb" x="1008.4" y="2423">晋级</text><text class="hb" x="1008.4" y="2435.5">Qualify</text>
<path class="ul" d="M5.2 2439.7H138.4M172.9 2439.7H326.5M360.6 2439.7H514.2M545.9 2439.7H719.1M753.5 2439.7H906.8M941.2 2439.7H1075.5"/>
</g>

<g id="G-connectors">
<path class="cn" d="M514.2 2504.9H524.2M545.9 2472.3H524.2V2537.5H545.9M514.2 2635.3H524.2M545.9 2602.7H524.2V2667.9H545.9"/>
<path class="cn" d="M719.1 2472.3H743.2V2537.5H719.1M743.2 2504.9H753.5M719.1 2602.7H743.2V2667.9H719.1M743.2 2635.3H753.5"/>
<path class="cn" d="M906.8 2504.9H931.2V2635.3H906.8M931.2 2570.1H941.2"/>
<path class="cn" d="M360.6 2504.9H336.1V2635.3H360.6M336.1 2570.1H326.5"/>
<path class="cn" d="M172.9 2570.1H148.4V2700.5H172.9M148.4 2635.3H138.4"/>
</g>

<g id="G-W1-1"><rect class="bx" x="545.9" y="2456" width="173.2" height="32.6"/><path class="dv" d="M565.8 2456V2488.6M699.5 2456V2488.6"/><text class="sd" x="555.9" y="2476.9">1</text><text class="nm" x="632.6" y="2470.3">王庚默(中国)</text><text class="nm" x="632.6" y="2481.7">Wang Genmou(CHN)</text><text class="sd" x="709.3" y="2476.9">3</text></g>
<g id="G-W1-2"><rect class="bx" x="545.9" y="2521.2" width="173.2" height="32.6"/><path class="dv" d="M565.8 2521.2V2553.8M699.5 2521.2V2553.8"/><text class="sd" x="555.9" y="2542.1">2</text><text class="nm" x="632.6" y="2535.5">于海涛(中国)</text><text class="nm" x="632.6" y="2546.9">Yu Haitao(CHN)</text><text class="sd win" x="709.3" y="2542.1">11</text></g>
<g id="G-W1-3"><rect class="bx" x="545.9" y="2586.4" width="173.2" height="32.6"/><path class="dv" d="M565.8 2586.4V2619M699.5 2586.4V2619"/><text class="sd" x="555.9" y="2607.3">3</text><text class="nm" x="632.6" y="2600.7">陈虎庆(中国)</text><text class="nm" x="632.6" y="2612.1">Chen Huqing(CHN)</text><text class="sd win" x="709.3" y="2607.3">11</text></g>
<g id="G-W1-4"><rect class="bx" x="545.9" y="2651.6" width="173.2" height="32.6"/><path class="dv" d="M565.8 2651.6V2684.2M699.5 2651.6V2684.2"/><text class="sd" x="555.9" y="2672.5">4</text><text class="nm" x="632.6" y="2665.9">陶颖多(中国台北)</text><text class="nm" x="632.6" y="2677.3">Tao Yingduo (TPE)</text><text class="sd" x="709.3" y="2672.5">5</text></g>

<g id="G-W2-1"><rect class="bx" x="753.5" y="2488.6" width="153.3" height="32.6"/><path class="dv" d="M887.2 2488.6V2521.2"/><text class="nm" x="820.4" y="2502.9">于海涛(中国)</text><text class="nm" x="820.4" y="2514.3">Yu Haitao(CHN)</text></g>
<g id="G-W2-2"><rect class="bx" x="753.5" y="2619" width="153.3" height="32.6"/><path class="dv" d="M887.2 2619V2651.6"/><text class="nm" x="820.4" y="2633.3">陈虎庆(中国)</text><text class="nm" x="820.4" y="2644.7">Chen Huqing(CHN)</text></g>

<g id="G-L1-1"><rect class="bx" x="360.6" y="2488.6" width="153.6" height="32.6"/><path class="dv" d="M380.2 2488.6V2521.2"/><text class="nm" x="447.2" y="2502.9">王庚默(中国)</text><text class="nm" x="447.2" y="2514.3">Wang Genmou(CHN)</text></g>
<g id="G-L1-2"><rect class="bx" x="360.6" y="2619" width="153.6" height="32.6"/><path class="dv" d="M380.2 2619V2651.6"/><text class="nm" x="447.2" y="2633.3">陶颖多(中国台北)</text><text class="nm" x="447.2" y="2644.7">Tao Yingduo (TPE)</text></g>

<g id="G-L2-1"><rect class="bx" x="172.9" y="2553.8" width="153.6" height="32.6"/><path class="dv" d="M192.5 2553.8V2586.4"/></g>
<g id="G-L2-2"><rect class="bx" x="172.9" y="2684.2" width="153.6" height="32.6"/><path class="dv" d="M192.5 2684.2V2716.8"/></g>
<g id="G-LG4"><rect class="tl" x="172.9" y="2716.8" width="153.6" height="32.6"/><text class="tg" x="249.7" y="2737.7">L-G4</text></g>

<g id="G-QL"><rect class="bx" x="5.2" y="2619" width="133.2" height="32.6"/></g>
<g id="G-QR"><rect class="bx" x="941.2" y="2553.8" width="134.3" height="32.6"/></g>

<g id="G1"><rect class="tw" x="719.1" y="2488.6" width="24.1" height="32.6"/><text class="tg" x="731.2" y="2509.5">G1</text></g>
<g id="G2"><rect class="tw" x="719.1" y="2619" width="24.1" height="32.6"/><text class="tg" x="731.2" y="2639.9">G2</text></g>
<g id="G4"><rect class="tw" x="906.8" y="2553.8" width="24.4" height="32.6"/><text class="tg" x="919" y="2574.7">G4</text></g>
<g id="G3"><rect class="tl" x="336.1" y="2553.8" width="24.5" height="32.6"/><text class="tg" x="348.4" y="2574.7">G3</text></g>
<g id="G5"><rect class="tl" x="148.4" y="2619" width="24.5" height="32.6"/><text class="tg" x="160.7" y="2639.9">G5</text></g>

<g id="G-dates">
<text class="dt" x="632.3" y="2507.2">2023.6.19.19:00</text><text class="dt" x="632.3" y="2637.6">2023.6.19.19:00</text>
<text class="dt" x="830.3" y="2572.4">2023.6.20.13:00</text>
<text class="dt" x="437.4" y="2572.4">2023.6.20.10:00</text>
<text class="dt" x="250" y="2637.6">2023.6.20.16:00</text>
</g>
<line class="rule" x1="5.2" y1="2750" x2="1075.5" y2="2750"/>
</svg>
